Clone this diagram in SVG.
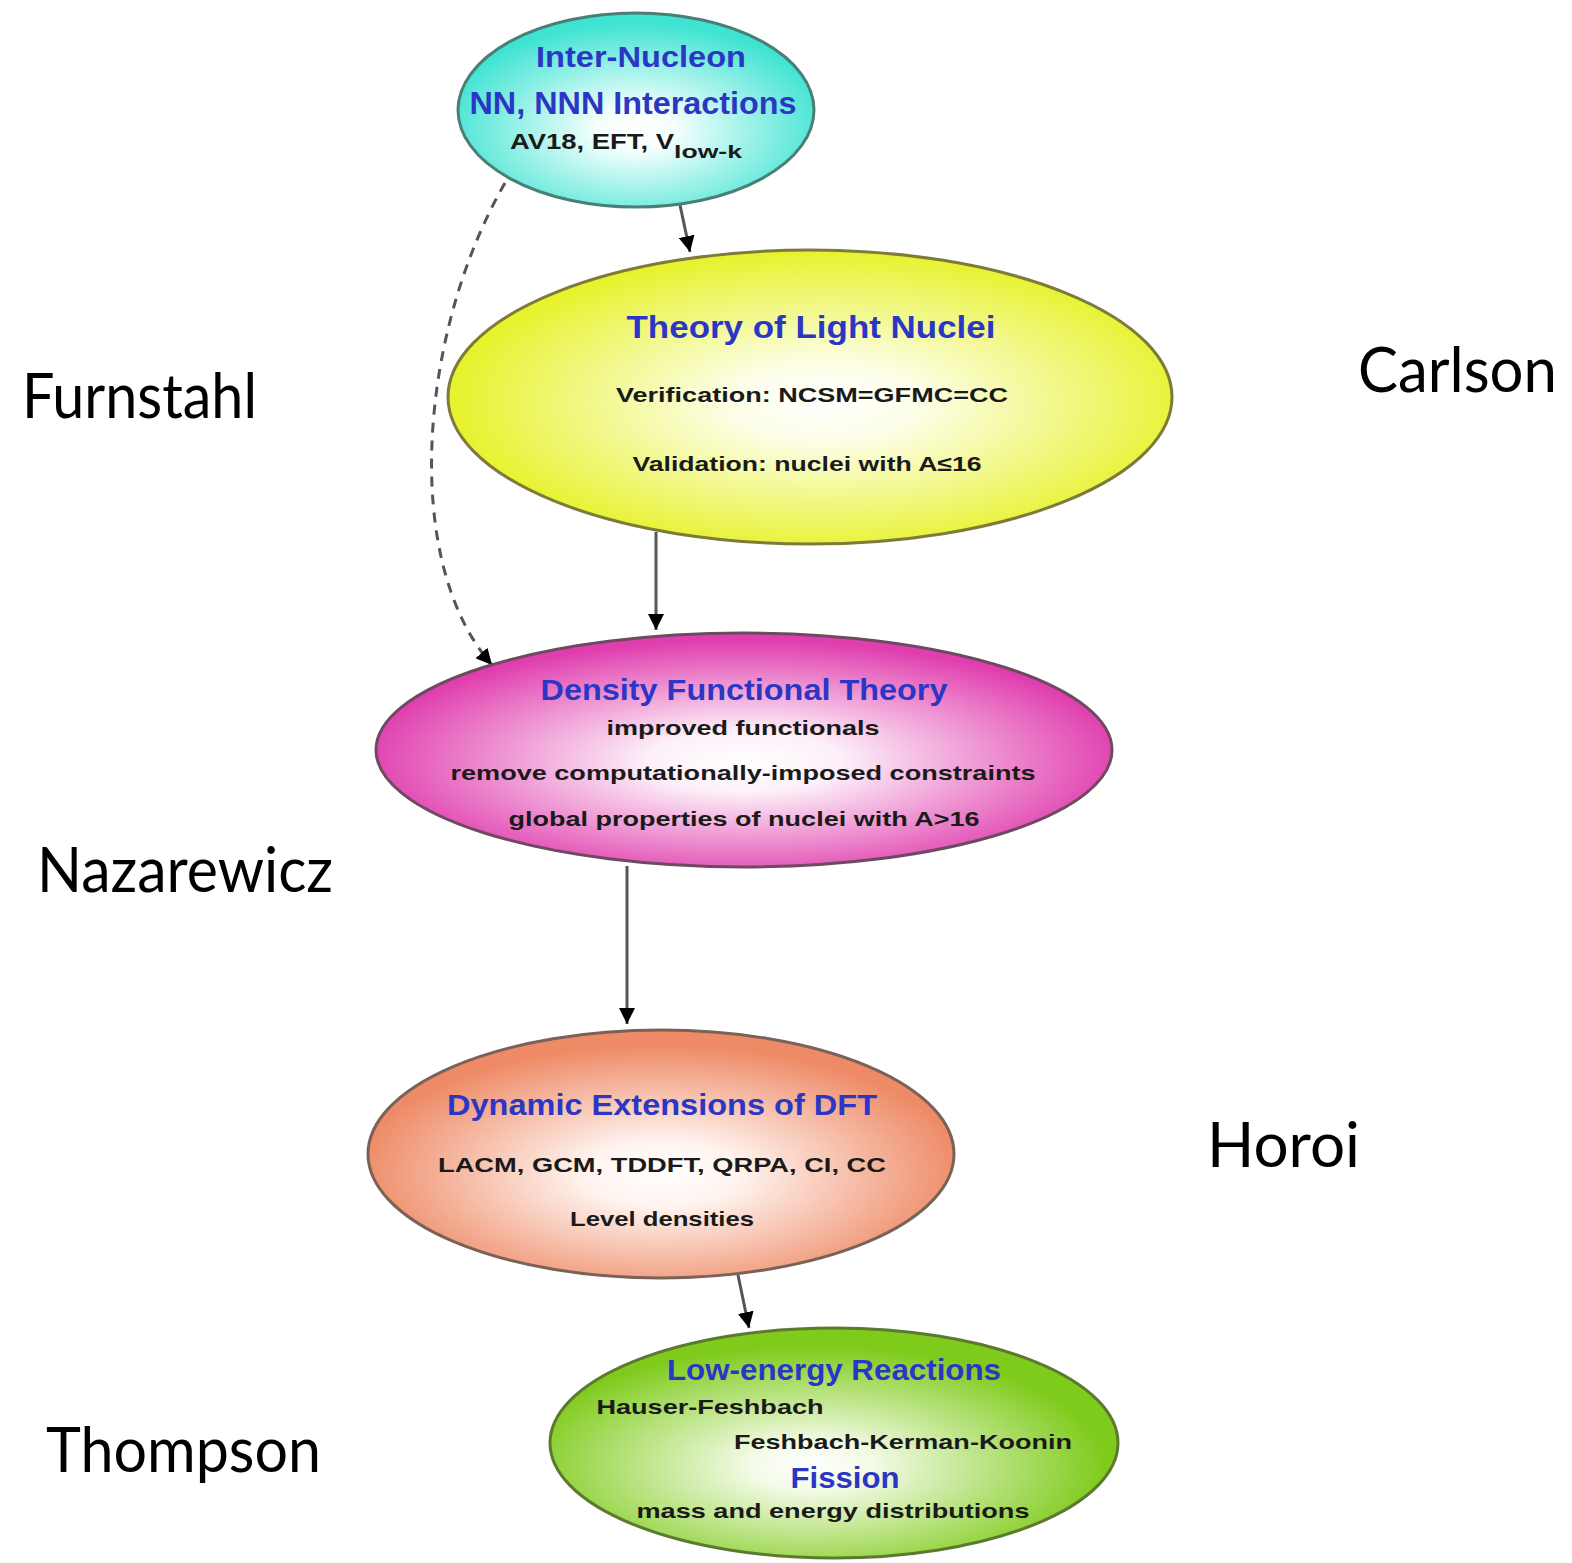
<svg xmlns="http://www.w3.org/2000/svg" width="1572" height="1563" viewBox="0 0 1572 1563">
<style>
.t{font-family:"Liberation Sans",Arial,sans-serif;font-weight:bold;fill:#2b37c4;text-anchor:middle}
.s{font-family:"Liberation Sans",Arial,sans-serif;font-weight:bold;fill:#1a1a1a;text-anchor:middle}
.n{font-family:Lato,"Open Sans",sans-serif;fill:#000;font-size:62px}
.c{fill:none;stroke:#555;stroke-width:3}
</style>
<defs>
<marker id="ah" viewBox="0 0 10 10" refX="10" refY="5" markerWidth="16" markerHeight="16" markerUnits="userSpaceOnUse" orient="auto">
<path d="M0,0 L10,5 L0,10 z" fill="#000"/>
</marker>
<radialGradient id="gc" cx="50%" cy="60%" r="55%"><stop offset="0" stop-color="#ffffff"/><stop offset="0.2" stop-color="#f4fffd"/><stop offset="1" stop-color="#3fe3d2"/></radialGradient>
<radialGradient id="gy" cx="52%" cy="52%" r="52%"><stop offset="0" stop-color="#ffffff"/><stop offset="0.25" stop-color="#fdfee8"/><stop offset="1" stop-color="#e6f22a"/></radialGradient>
<radialGradient id="gm" cx="50%" cy="55%" r="52%"><stop offset="0" stop-color="#ffffff"/><stop offset="0.25" stop-color="#fdf0f9"/><stop offset="1" stop-color="#e03eae"/></radialGradient>
<radialGradient id="go" cx="50%" cy="58%" r="52%"><stop offset="0" stop-color="#ffffff"/><stop offset="0.25" stop-color="#fff4ef"/><stop offset="1" stop-color="#ee8a66"/></radialGradient>
<radialGradient id="gg" cx="46%" cy="60%" r="52%"><stop offset="0" stop-color="#ffffff"/><stop offset="0.2" stop-color="#f4fbe8"/><stop offset="1" stop-color="#7fcb1c"/></radialGradient>
</defs>

<g id="connectors">
<path class="c" d="M680,205 L690,252" stroke="#666" marker-end="url(#ah)"/>
<path class="c" d="M656,532 L656,630" stroke="#999" marker-end="url(#ah)"/>
<path class="c" d="M505,183 C420,330 400,560 492,665" stroke="#888" stroke-dasharray="10,8" marker-end="url(#ah)"/>
<path class="c" d="M627,866 L627,1024" stroke="#444" marker-end="url(#ah)"/>
<path class="c" d="M738,1275 L749,1328" stroke="#777" marker-end="url(#ah)"/>
</g>

<g id="node-internucleon">
<ellipse cx="636" cy="110" rx="178" ry="97" fill="url(#gc)" stroke="#4a7f78" stroke-width="3"/>
<text class="t" x="641" y="67" font-size="30" textLength="210" lengthAdjust="spacingAndGlyphs">Inter-Nucleon</text>
<text class="t" x="633" y="114" font-size="31" textLength="327" lengthAdjust="spacingAndGlyphs">NN, NNN Interactions</text>
<text class="s" x="510" y="149" font-size="22" style="text-anchor:start"><tspan textLength="164" lengthAdjust="spacingAndGlyphs">AV18, EFT, V</tspan><tspan font-size="18" dy="9" textLength="68" lengthAdjust="spacingAndGlyphs">low-k</tspan></text>
</g>

<g id="node-light">
<ellipse cx="810" cy="397" rx="362" ry="147" fill="url(#gy)" stroke="#7d7a3a" stroke-width="3"/>
<text class="t" x="811" y="338" font-size="31" textLength="369" lengthAdjust="spacingAndGlyphs">Theory of Light Nuclei</text>
<text class="s" x="812" y="402" font-size="21" textLength="392" lengthAdjust="spacingAndGlyphs">Verification: NCSM=GFMC=CC</text>
<text class="s" x="807" y="471" font-size="21" textLength="349" lengthAdjust="spacingAndGlyphs">Validation: nuclei with A≤16</text>
</g>

<g id="node-dft">
<ellipse cx="744" cy="750" rx="368" ry="117" fill="url(#gm)" stroke="#6e4a62" stroke-width="3"/>
<text class="t" x="744" y="700" font-size="30" textLength="407" lengthAdjust="spacingAndGlyphs">Density Functional Theory</text>
<text class="s" x="743" y="735" font-size="21" textLength="273" lengthAdjust="spacingAndGlyphs">improved functionals</text>
<text class="s" x="743" y="780" font-size="21" textLength="585" lengthAdjust="spacingAndGlyphs">remove computationally-imposed constraints</text>
<text class="s" x="744" y="826" font-size="21" textLength="471" lengthAdjust="spacingAndGlyphs">global properties of nuclei with A&gt;16</text>
</g>

<g id="node-dynamic">
<ellipse cx="661" cy="1154" rx="293" ry="124" fill="url(#go)" stroke="#7a6258" stroke-width="3"/>
<text class="t" x="662" y="1115" font-size="30" textLength="430" lengthAdjust="spacingAndGlyphs">Dynamic Extensions of DFT</text>
<text class="s" x="662" y="1172" font-size="21" textLength="448" lengthAdjust="spacingAndGlyphs">LACM, GCM, TDDFT, QRPA, CI, CC</text>
<text class="s" x="662" y="1226" font-size="21" textLength="184" lengthAdjust="spacingAndGlyphs">Level densities</text>
</g>

<g id="node-reactions">
<ellipse cx="834" cy="1443" rx="284" ry="115" fill="url(#gg)" stroke="#5c7a2e" stroke-width="3"/>
<text class="t" x="834" y="1380" font-size="30" textLength="334" lengthAdjust="spacingAndGlyphs">Low-energy Reactions</text>
<text class="s" x="710" y="1414" font-size="21" textLength="227" lengthAdjust="spacingAndGlyphs">Hauser-Feshbach</text>
<text class="s" x="903" y="1449" font-size="21" textLength="338" lengthAdjust="spacingAndGlyphs">Feshbach-Kerman-Koonin</text>
<text class="t" x="845" y="1488" font-size="30" textLength="109" lengthAdjust="spacingAndGlyphs">Fission</text>
<text class="s" x="833" y="1518" font-size="21" textLength="393" lengthAdjust="spacingAndGlyphs">mass and energy distributions</text>
</g>

<g id="names">
<text class="n" x="22" y="418" textLength="235" lengthAdjust="spacingAndGlyphs">Furnstahl</text>
<text class="n" x="1358" y="392" textLength="199" lengthAdjust="spacingAndGlyphs">Carlson</text>
<text class="n" x="37" y="892" textLength="296" lengthAdjust="spacingAndGlyphs">Nazarewicz</text>
<text class="n" x="1207" y="1167" textLength="153" lengthAdjust="spacingAndGlyphs">Horoi</text>
<text class="n" x="46" y="1472" textLength="275" lengthAdjust="spacingAndGlyphs">Thompson</text>
</g>
</svg>
